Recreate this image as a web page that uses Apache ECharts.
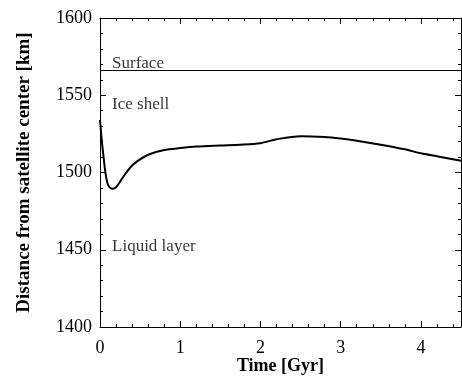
<!DOCTYPE html>
<html>
<head>
<meta charset="utf-8">
<script src="https://cdn.jsdelivr.net/npm/echarts@6/dist/echarts.min.js"></script>
<style>
    html, body { margin: 0; padding: 0; background: #fff; }
    #chart { width: 462px; height: 376px; }
</style>
</head>
<body>
<div id="chart"></div>
<script>
// 数据：时间 (Gyr) 和 距离 (km)
const timeGyr = [0, 0.02, 0.04, 0.06, 0.08, 0.1, 0.13, 0.16, 0.2, 0.25, 0.3, 0.4, 0.5, 0.6, 0.8,
    1.0, 1.2, 1.5, 1.75, 2.0, 2.2, 2.5, 2.8, 3.0, 3.2, 3.5, 3.8, 4.0, 4.2, 4.5];
const radiusKm = [1534, 1522, 1512, 1503, 1496, 1492, 1490, 1489.5, 1490.5, 1494, 1498, 1504.5, 1508.5, 1511.5, 1514.5,
    1515.8, 1516.8, 1517.5, 1518, 1519, 1521.5, 1523.5, 1523, 1522, 1520.6, 1518, 1515, 1512.4, 1510.5, 1507.6];
const surfaceKm = 1566;
const xRange = [0, 4.5];
const yRange = [1400, 1600];
// 层名称及其位置 (数据坐标)
const layerNames = ['Surface', 'Ice shell', 'Liquid layer'];
const layerAt = [[0.15, 1570.8], [0.15, 1543.7], [0.15, 1452.4]];

const chart = echarts.init(document.getElementById('chart'));
const font = '"Liberation Serif", "Times New Roman", serif';

function axisBase(extra) {
    return Object.assign({
        type: 'value',
        splitLine: { show: false },
        axisLine: { show: true, onZero: false, lineStyle: { color: 'black' } },
        axisTick: { show: true, inside: true, length: 6, lineStyle: { color: 'black', width: 1 } },
        minorTick: { show: true, splitNumber: 5, length: 3, lineStyle: { color: 'black', width: 1 } }
    }, extra);
}

const option = {
    animation: false,
    grid: { left: 100, right: 1, top: 18, bottom: 49, outerBoundsMode: 'none' },
    xAxis: [
        axisBase({
            min: xRange[0], max: xRange[1], interval: 1,
            name: 'Time [Gyr]', nameLocation: 'middle', nameGap: 30, nameMoveOverlap: false,
            nameTextStyle: { fontFamily: font, fontWeight: 'bold', fontSize: 18, color: '#000' },
            axisLabel: { fontFamily: font, fontSize: 18, color: '#000', margin: 12, showMaxLabel: false }
        }),
        axisBase({
            position: 'top', min: xRange[0], max: xRange[1], interval: 1,
            axisLabel: { show: false }
        })
    ],
    yAxis: [
        axisBase({
            min: yRange[0], max: yRange[1], interval: 50,
            name: 'Distance from satellite center [km]', nameLocation: 'middle', nameGap: 66, nameMoveOverlap: false,
            nameTextStyle: { fontFamily: font, fontWeight: 'bold', fontSize: 19, color: '#000' },
            axisLabel: { fontFamily: font, fontSize: 18, color: '#000', margin: 8, formatter: v => String(v) }
        }),
        axisBase({
            position: 'right', min: yRange[0], max: yRange[1], interval: 50,
            axisLabel: { show: false }
        })
    ],
    series: [
        {
            type: 'line',
            data: timeGyr.map((t, i) => [t, radiusKm[i]]),
            smooth: 0.3,
            showSymbol: false,
            lineStyle: { color: '#000', width: 2 }
        },
        {
            type: 'line',
            data: [[xRange[0], surfaceKm], [xRange[1], surfaceKm]],
            showSymbol: false,
            lineStyle: { color: '#000', width: 1 }
        },
        {
            type: 'scatter',
            symbolSize: 0,
            data: layerAt.map((p, i) => ({ value: p, name: layerNames[i] })),
            label: {
                show: true,
                position: 'right',
                distance: 0,
                formatter: '{b}',
                fontFamily: font,
                fontSize: 17,
                color: '#000'
            }
        }
    ]
};
chart.setOption(option);
</script>
</body>
</html>
